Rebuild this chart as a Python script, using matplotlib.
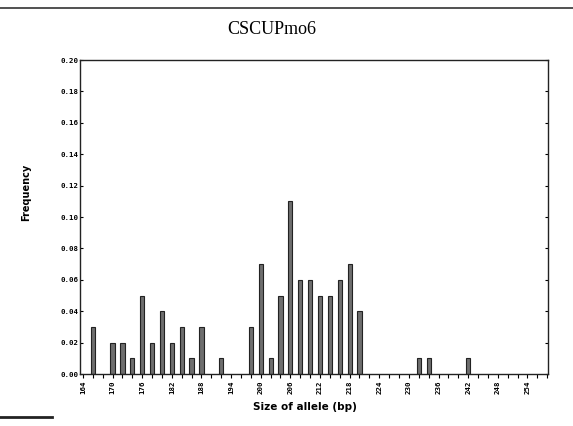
import numpy as np
import matplotlib.pyplot as plt
from matplotlib.ticker import MultipleLocator, FormatStrFormatter
from matplotlib.lines import Line2D


# -----------------------------
# Data
# -----------------------------

allele_size = [166, 170, 172, 174, 176, 178, 180, 182, 184, 186, 188, 192,
               198, 200, 202, 204, 206, 208, 210, 212, 214, 216, 218, 220,
               232, 234, 242]
frequency = [0.03, 0.02, 0.02, 0.01, 0.05, 0.02, 0.04, 0.02, 0.03, 0.01, 0.03, 0.01,
             0.03, 0.07, 0.01, 0.05, 0.11, 0.06, 0.06, 0.05, 0.05, 0.06, 0.07, 0.04,
             0.01, 0.01, 0.01]

x_tick_labels = list(range(164, 255, 6))
y_ticks = np.arange(0, 0.201, 0.02)


# -----------------------------
# Figure
# -----------------------------

fig = plt.figure(figsize=(5.73, 4.26), dpi=100)
ax = fig.add_axes([0.1396, 0.122, 0.817, 0.737])

ax.bar(allele_size, frequency, width=0.85,
       color="#6e6e6e", edgecolor="#222222", linewidth=0.8)

ax.set_xlim(163.4, 258.2)
ax.set_ylim(0, 0.20)

ax.set_xticks(x_tick_labels)
ax.xaxis.set_minor_locator(MultipleLocator(2))
ax.set_yticks(y_ticks)
ax.yaxis.set_major_formatter(FormatStrFormatter("%.2f"))

tick_font = {"family": "DejaVu Sans Mono", "weight": "bold", "size": 5.3}
for lab in ax.get_xticklabels():
    lab.set_rotation(90)
    lab.set_fontproperties(tick_font)
for lab in ax.get_yticklabels():
    lab.set_fontproperties(tick_font)

ax.tick_params(axis="x", which="both", direction="out", length=3, width=0.8, pad=2)
ax.tick_params(axis="y", which="major", direction="out", length=3, width=0.8, pad=1)
ax.tick_params(axis="y", right=True, direction="in", length=2)

for spine in ax.spines.values():
    spine.set_linewidth(1.0)
    spine.set_color("#222222")

ax.set_xlabel("Size of allele (bp)", fontsize=7.5, fontweight="bold")
ax.xaxis.set_label_coords(0.48, -0.09)
ax.set_ylabel("Frequency", fontsize=7, fontweight="bold")
ax.yaxis.set_label_coords(-0.105, 0.58)

# title sits left of the axes centre in the scan
fig.text(0.475, 0.93, "CSCUPmo6", family="Liberation Serif", fontsize=13,
         ha="center", va="center")

# page rules from the scan
fig.add_artist(Line2D([0.0, 1.0], [0.981, 0.981], color="#333333", linewidth=1.2))
fig.add_artist(Line2D([0.0, 0.09], [0.021, 0.021], color="#222222", linewidth=2.0))

fig.savefig("out.png", dpi=100)
